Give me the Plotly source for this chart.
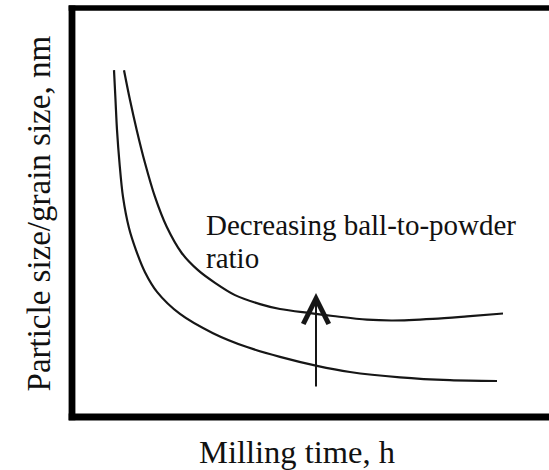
import plotly.graph_objects as go

# Milling time (h) and particle/grain size (relative units) for the two ball-to-powder ratios
time_high_bpr = [4.2, 4.35, 4.5, 4.75, 5.1, 5.7, 6.4, 7.3, 8.5, 10.8, 14.1, 17.5, 20.8, 24.5, 27.8, 32.8, 37.8, 42.5]
size_high_bpr = [84.8, 77.5, 70.2, 62.1, 53.8, 46.2, 40.8, 35.4, 30.6, 25.2, 20.5, 17.1, 14.7, 12.5, 11.0, 9.7, 9.0, 8.8]

time_low_bpr = [5.2, 5.8, 6.47, 7.3, 8.3, 9.47, 10.97, 12.6, 14.3, 16.3, 18.8, 20.8, 23.8, 26.1, 29.5, 32.1, 36.1, 39.5, 43.1]
size_low_bpr = [84.8, 77.5, 70.2, 62.1, 53.8, 46.5, 40.1, 35.9, 32.8, 29.8, 27.6, 26.4, 25.4, 24.7, 23.8, 23.6, 24.0, 24.6, 25.3]

# Arrow indicating the trend with decreasing ball-to-powder ratio
arrow_time = 24.4
arrow_from = 7.1
arrow_to = 30.3

label_lines = ["Decreasing ball-to-powder", "ratio"]
label_time = 13.2
label_sizes = [46.9, 38.9]

x_title = "Milling time, h"
y_title = "Particle size/grain size, nm"

FONT = "Liberation Serif, Times New Roman, serif"
INK = "#161616"

fig = go.Figure()
for t, s in [(time_high_bpr, size_high_bpr), (time_low_bpr, size_low_bpr)]:
    fig.add_trace(go.Scatter(
        x=t, y=s, mode="lines",
        line=dict(color=INK, width=2.2, shape="spline", smoothing=0.9),
        hoverinfo="skip", showlegend=False,
    ))

annotations = [
    dict(x=arrow_time, y=arrow_to, ax=arrow_time, ay=arrow_from,
         xref="x", yref="y", axref="x", ayref="y",
         showarrow=True, arrowhead=5, arrowsize=2.5, arrowwidth=2,
         arrowcolor=INK, standoff=0, startstandoff=0, text=""),
]
for line, ys in zip(label_lines, label_sizes):
    annotations.append(dict(
        x=label_time, y=ys, xref="x", yref="y", text=line, showarrow=False,
        xanchor="left", yanchor="middle",
        font=dict(family=FONT, size=29, color="#111111"),
    ))
annotations.append(dict(
    x=0.4727, y=-0.0856, xref="paper", yref="paper", text=x_title,
    showarrow=False, xanchor="center", yanchor="middle",
    font=dict(family=FONT, size=32.5, color="#111111"),
))
annotations.append(dict(
    x=-0.0692, y=0.4976, xref="paper", yref="paper", text=y_title,
    showarrow=False, xanchor="center", yanchor="middle", textangle=-90,
    font=dict(family=FONT, size=33, color="#111111"),
))

# Thick frame on the left, top and bottom of the plotting area
frame = dict(color="#000000", width=6.8)
shapes = [
    dict(type="line", xref="paper", yref="paper", x0=0, x1=0, y0=-0.008, y1=1.006, line=frame),
    dict(type="line", xref="paper", yref="paper", x0=-0.007, x1=1.01, y0=1.0, y1=1.0,
         line=dict(color="#000000", width=5.5)),
    dict(type="line", xref="paper", yref="paper", x0=-0.007, x1=1.01, y0=0, y1=0, line=frame),
]

fig.update_layout(
    width=549, height=470,
    margin=dict(l=72, r=0, t=8, b=53),
    paper_bgcolor="white", plot_bgcolor="white",
    xaxis=dict(range=[0, 47.7], visible=False, fixedrange=True),
    yaxis=dict(range=[0, 100], visible=False, fixedrange=True),
    annotations=annotations, shapes=shapes, showlegend=False,
)

fig.write_html("out.html", config={"displayModeBar": False})
